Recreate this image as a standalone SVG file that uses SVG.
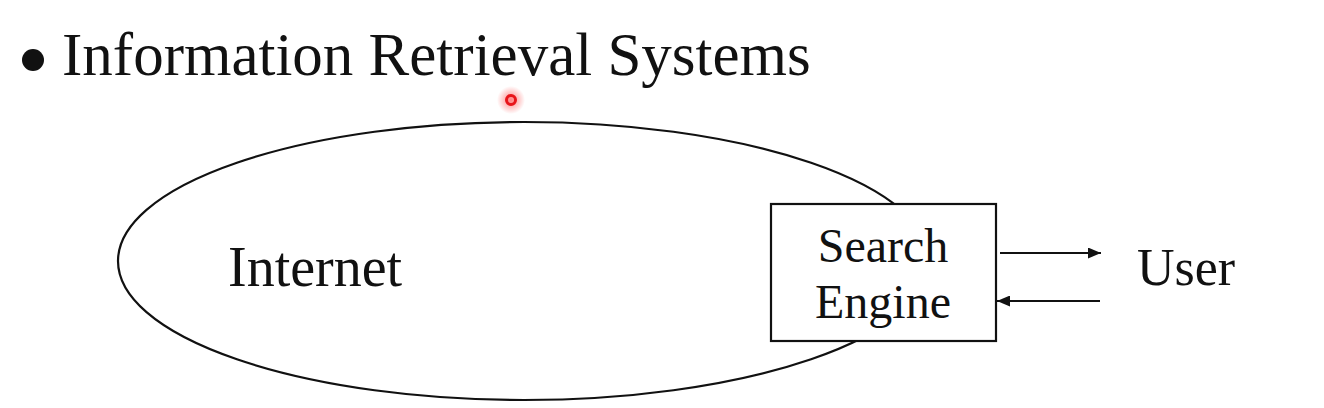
<svg xmlns="http://www.w3.org/2000/svg" width="1324" height="408" viewBox="0 0 1324 408">
  <defs>
    <style>
      .t { font-family: "Liberation Serif", "Times New Roman", serif; fill: #111; }
      .line { stroke: #111; stroke-width: 2.2; fill: none; }
    </style>
    <marker id="ah" viewBox="0 0 13 11" refX="13" refY="5.5" markerWidth="13" markerHeight="11" markerUnits="userSpaceOnUse" orient="auto">
      <path d="M0,0 L13,5.5 L0,11 Z" fill="#111"/>
    </marker>
    <radialGradient id="glow">
      <stop offset="0" stop-color="#ff3030" stop-opacity="0.6"/>
      <stop offset="1" stop-color="#ff3030" stop-opacity="0"/>
    </radialGradient>
  </defs>
  <rect width="1324" height="408" fill="#fff"/>

  <g id="title">
    <circle cx="33" cy="60" r="11" fill="#111"/>
    <text class="t" x="62" y="75" font-size="61">Information Retrieval Systems</text>
  </g>

  <g id="internet">
    <ellipse class="line" cx="524" cy="261" rx="406" ry="139"/>
    <text class="t" x="228" y="286" font-size="56">Internet</text>
  </g>

  <g id="search-engine">
    <rect x="771" y="204" width="225" height="137" fill="#fff" stroke="#111" stroke-width="2.2"/>
    <text class="t" x="883" y="262" font-size="48" text-anchor="middle">Search</text>
    <text class="t" x="883" y="318" font-size="48" text-anchor="middle">Engine</text>
  </g>

  <g id="user">
    <text class="t" x="1137" y="285" font-size="52">User</text>
  </g>

  <g id="connectors">
    <line class="line" x1="1000" y1="253" x2="1101" y2="253" marker-end="url(#ah)"/>
    <line class="line" x1="1100" y1="301" x2="997" y2="301" marker-end="url(#ah)"/>
  </g>

  <g id="pointer">
    <circle cx="511" cy="100" r="14" fill="url(#glow)"/>
    <circle cx="511" cy="100" r="4.5" fill="none" stroke="#e8141a" stroke-width="3"/>
  </g>
</svg>
